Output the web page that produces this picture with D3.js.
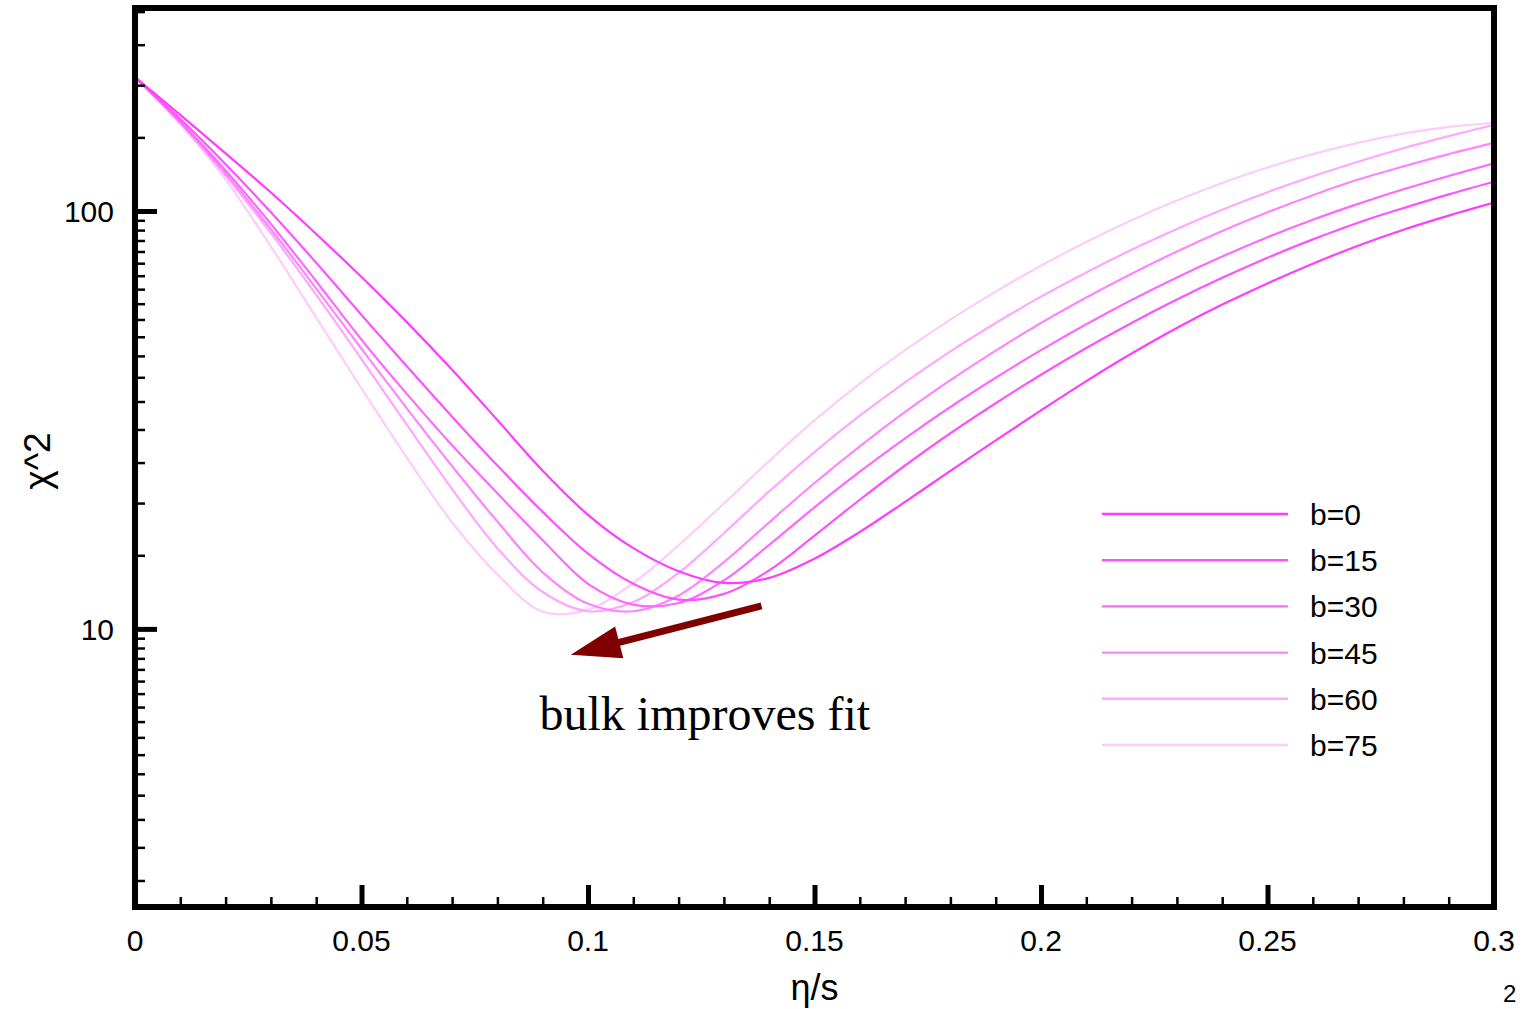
<!DOCTYPE html>
<html>
<head>
<meta charset="utf-8">
<script src="https://cdn.jsdelivr.net/npm/d3@7"></script>
<style>
  body { margin: 0; background: #fff; }
  text { font-family: 'Liberation Sans', Arial, sans-serif; fill: #000; }
</style>
</head>
<body>
<div id="chart"></div>
<script>
// eta/s grid shared by every curve
const etaValues = [0, 0.01, 0.02, 0.03, 0.04, 0.05, 0.06, 0.07, 0.08, 0.09, 0.1,
  0.11, 0.12, 0.13, 0.14, 0.15, 0.16, 0.17, 0.18, 0.19, 0.2,
  0.21, 0.22, 0.23, 0.24, 0.25, 0.26, 0.27, 0.28, 0.29, 0.3]

// chi^2, one list per bulk value
const chi2B0 = [209, 169.8, 137.4, 110.7, 88.1, 69.5, 54.2, 41.7, 31.6, 23.9, 18.75,
  15.6, 13.74, 12.88, 13.24, 14.72, 17.06, 20.14, 23.88, 28.25, 33.34,
  39.17, 45.6, 52.5, 59.7, 67.1, 74.8, 82.6, 90.2, 97.5, 104.7]
const chi2B15 = [209, 166.0, 129.4, 99.3, 75.2, 56.4, 42.5, 32.2, 24.6, 19.05, 15.14,
  12.82, 11.75, 12.13, 13.8, 16.71, 20.37, 24.6, 29.38, 34.67, 40.55,
  46.99, 53.95, 61.38, 69.18, 77.27, 85.51, 93.76, 101.6, 109.6, 117.5]
const chi2B30 = [209, 163.7, 125.0, 93.1, 67.9, 49.2, 36.5, 27.5, 21.1, 16.3, 12.82,
  11.43, 11.53, 13.06, 15.89, 19.54, 23.77, 28.58, 33.96, 39.9, 46.45,
  53.58, 61.24, 69.34, 77.8, 86.5, 95.28, 104.0, 112.7, 121.3, 130.0]
const chi2B45 = [209, 162.9, 123.0, 90.4, 65.2, 46.8, 33.7, 24.5, 18.07, 13.65, 11.48,
  11.02, 12.02, 14.45, 17.99, 22.34, 27.35, 33.04, 39.36, 46.34, 53.95,
  62.09, 70.79, 79.98, 89.54, 99.3, 109.1, 118.9, 127.9, 136.8, 145.5]
const chi2B60 = [209, 162.2, 121.6, 88.5, 63.0, 44.2, 30.8, 21.6, 15.6, 12.25, 11.02,
  11.59, 13.61, 16.94, 21.33, 26.49, 32.36, 38.9, 46.13, 53.95, 62.37,
  71.29, 80.72, 90.57, 100.7, 110.9, 121.1, 131.2, 141.3, 151.0, 160.7]
const chi2B75 = [209, 161.4, 118.9, 82.2, 55.6, 37.6, 25.7, 17.99, 13.49, 10.99, 11.12,
  12.88, 15.85, 19.95, 25.23, 31.55, 38.64, 46.45, 54.95, 64.12, 73.96,
  84.33, 95.06, 105.9, 116.7, 127.1, 136.8, 145.5, 153.1, 158.9, 162.6]

const seriesLabels = ['b=0', 'b=15', 'b=30', 'b=45', 'b=60', 'b=75']
const seriesValues = [chi2B0, chi2B15, chi2B30, chi2B45, chi2B60, chi2B75]
const seriesColors = ['#ff3cff', '#ff52ff', '#ff68ff', '#ff84ff', '#ffa6ff', '#ffcbff']

const xMajorTicks = [0, 0.05, 0.1, 0.15, 0.2, 0.25, 0.3]
const xTickLabels = ['0', '0.05', '0.1', '0.15', '0.2', '0.25', '0.3']
const xMinorTicks = [0.01, 0.02, 0.03, 0.04, 0.06, 0.07, 0.08, 0.09,
  0.11, 0.12, 0.13, 0.14, 0.16, 0.17, 0.18, 0.19,
  0.21, 0.22, 0.23, 0.24, 0.26, 0.27, 0.28, 0.29]
const yMajorTicks = [10, 100]
const yMinorTicks = [2.5, 3, 3.5, 4, 4.5, 5, 5.5, 6, 6.5, 7, 7.5, 8, 8.5, 9, 9.5,
  15, 20, 25, 30, 35, 40, 45, 50, 55, 60, 65, 70, 75, 80, 85, 90, 95,
  150, 200, 250, 300]

// annotation: arrow from the b=0 minimum towards smaller eta/s
const arrowFrom = { eta: 0.1383, chi2: 11.35 }
const arrowTo = { eta: 0.0962, chi2: 8.67 }
const noteText = 'bulk improves fit'
const noteAt = { eta: 0.0893, chi2: 5.73 }

const width = 1522
const height = 1009
const plotLeft = 135
const plotRight = 1494
const plotTop = 8
const plotBottom = 907

const svg = d3
  .select('#chart')
  .append('svg')
  .attr('width', width)
  .attr('height', height)
  .style('display', 'block')

const x = d3.scaleLinear().domain([0, 0.3]).range([plotLeft, plotRight])
const y = d3.scaleLog().domain([2.16, 306]).range([plotBottom, plotTop])

svg
  .append('clipPath')
  .attr('id', 'plot-clip')
  .append('rect')
  .attr('x', plotLeft)
  .attr('y', plotTop)
  .attr('width', plotRight - plotLeft)
  .attr('height', plotBottom - plotTop)

// curves, lightest first so b=0 ends on top
const line = d3
  .line()
  .x(d => x(d[0]))
  .y(d => y(d[1]))
  .curve(d3.curveCatmullRom.alpha(0.5))

const curves = seriesValues.map((vals, i) => ({
  label: seriesLabels[i],
  color: seriesColors[i],
  points: etaValues.map((e, j) => [e, vals[j]]),
}))

svg
  .append('g')
  .attr('clip-path', 'url(#plot-clip)')
  .selectAll('path')
  .data(curves.slice().reverse())
  .join('path')
  .attr('d', d => line(d.points))
  .attr('fill', 'none')
  .attr('stroke', d => d.color)
  .attr('stroke-width', 2.2)

// ticks (inward, on left and bottom only)
const xMinorAxis = d3.axisBottom(x).tickValues(xMinorTicks).tickSize(-10).tickFormat('')
const xMajorAxis = d3.axisBottom(x).tickValues(xMajorTicks).tickSize(-22).tickFormat('')
const yMinorAxis = d3.axisLeft(y).tickValues(yMinorTicks).tickSize(-10).tickFormat('')
const yMajorAxis = d3.axisLeft(y).tickValues(yMajorTicks).tickSize(-22).tickFormat('')

function drawTicks(axis, transform, strokeWidth) {
  const g = svg.append('g').attr('transform', transform).call(axis)
  g.select('.domain').remove()
  g.selectAll('.tick line').attr('stroke', '#000').attr('stroke-width', strokeWidth)
}
drawTicks(xMinorAxis, `translate(0,${plotBottom})`, 2.5)
drawTicks(xMajorAxis, `translate(0,${plotBottom})`, 5)
drawTicks(yMinorAxis, `translate(${plotLeft},0)`, 2.5)
drawTicks(yMajorAxis, `translate(${plotLeft},0)`, 5)

// frame
svg
  .append('rect')
  .attr('x', plotLeft)
  .attr('y', plotTop)
  .attr('width', plotRight - plotLeft)
  .attr('height', plotBottom - plotTop)
  .attr('fill', 'none')
  .attr('stroke', '#000')
  .attr('stroke-width', 6)

// tick labels
svg
  .append('g')
  .selectAll('text')
  .data(xMajorTicks)
  .join('text')
  .attr('x', d => x(d))
  .attr('y', 951)
  .attr('text-anchor', 'middle')
  .attr('font-size', 30)
  .text((d, i) => xTickLabels[i])

svg
  .append('g')
  .selectAll('text')
  .data(yMajorTicks)
  .join('text')
  .attr('x', 114)
  .attr('y', d => y(d) + 11)
  .attr('text-anchor', 'end')
  .attr('font-size', 30)
  .text(d => d)

// axis titles
svg
  .append('text')
  .attr('x', x(0.15))
  .attr('y', 1000)
  .attr('text-anchor', 'middle')
  .attr('font-size', 36)
  .text('η/s')

svg
  .append('text')
  .attr('transform', 'translate(50,461) rotate(-90)')
  .attr('text-anchor', 'middle')
  .attr('font-size', 37)
  .text('χ^2')

// legend
const legend = svg.append('g').attr('transform', 'translate(1102,514)')
const legendRow = legend
  .selectAll('g')
  .data(curves)
  .join('g')
  .attr('transform', (d, i) => `translate(0,${i * 46.2})`)
legendRow
  .append('line')
  .attr('x1', 0)
  .attr('x2', 186)
  .attr('stroke', d => d.color)
  .attr('stroke-width', 2.4)
legendRow
  .append('text')
  .attr('x', 208)
  .attr('y', 11)
  .attr('font-size', 30)
  .text(d => d.label)

// arrow annotation
const ax0 = x(arrowFrom.eta)
const ay0 = y(arrowFrom.chi2)
const ax1 = x(arrowTo.eta)
const ay1 = y(arrowTo.chi2)
const len = Math.hypot(ax1 - ax0, ay1 - ay0)
const ux = (ax1 - ax0) / len
const uy = (ay1 - ay0) / len
const headLen = 50
const headHalf = 16.5
const bx = ax1 - ux * headLen
const by = ay1 - uy * headLen

svg
  .append('line')
  .attr('x1', ax0)
  .attr('y1', ay0)
  .attr('x2', bx + ux * 2)
  .attr('y2', by + uy * 2)
  .attr('stroke', '#800000')
  .attr('stroke-width', 7)

svg
  .append('polygon')
  .attr('points', [
    [ax1, ay1],
    [bx - uy * headHalf, by + ux * headHalf],
    [bx + uy * headHalf, by - ux * headHalf],
  ].map(p => p.join(',')).join(' '))
  .attr('fill', '#800000')

svg
  .append('text')
  .attr('x', x(noteAt.eta))
  .attr('y', y(noteAt.chi2))
  .style('font-family', "'Liberation Serif', 'Times New Roman', serif")
  .attr('font-size', 48)
  .text(noteText)

// page number in the bottom right corner
svg
  .append('text')
  .attr('x', 1503)
  .attr('y', 1002)
  .attr('font-size', 24)
  .text('2')
</script>
</body>
</html>
